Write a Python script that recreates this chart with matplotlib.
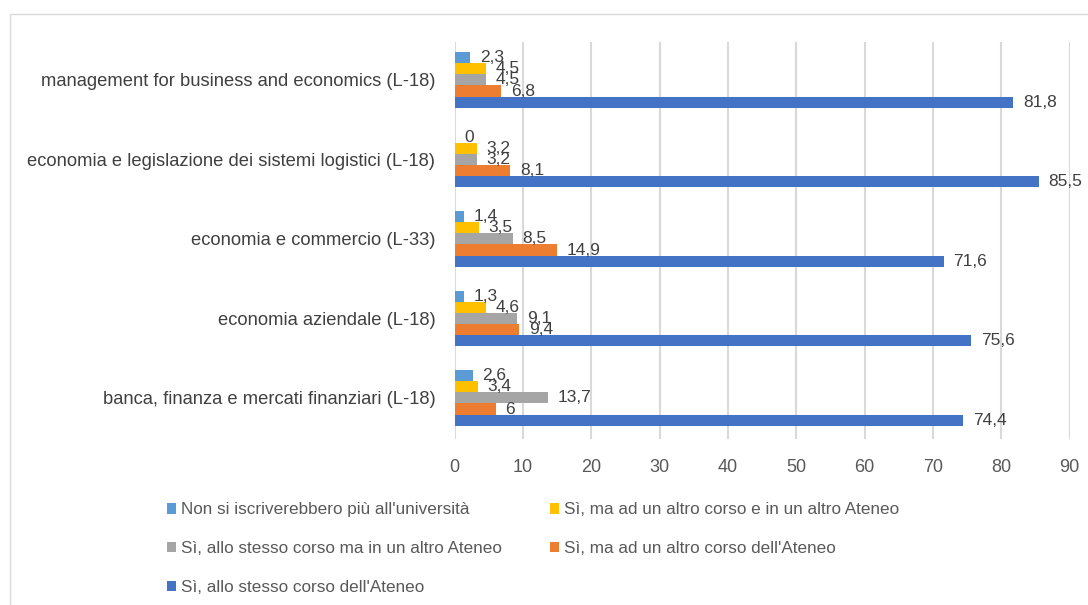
import matplotlib.pyplot as plt
import numpy as np
from matplotlib.patches import Rectangle

# Data (bottom to top)
categories = ['banca, finanza e mercati finanziari (L-18)',
              'economia aziendale (L-18)',
              'economia e commercio (L-33)',
              'economia e legislazione dei sistemi logistici (L-18)',
              'management for business and economics (L-18)']

stesso_corso = [74.4, 75.6, 71.6, 85.5, 81.8]
altro_corso_ateneo = [6, 9.4, 14.9, 8.1, 6.8]
stesso_corso_altro_ateneo = [13.7, 9.1, 8.5, 3.2, 4.5]
altro_corso_altro_ateneo = [3.4, 4.6, 3.5, 3.2, 4.5]
non_iscriverebbero = [2.6, 1.3, 1.4, 0, 2.3]

series = [
    (stesso_corso, "Sì, allo stesso corso dell'Ateneo", '#4472C4'),
    (altro_corso_ateneo, "Sì, ma ad un altro corso dell'Ateneo", '#ED7D31'),
    (stesso_corso_altro_ateneo, "Sì, allo stesso corso ma in un altro Ateneo", '#A5A5A5'),
    (altro_corso_altro_ateneo, "Sì, ma ad un altro corso e in un altro Ateneo", '#FFC000'),
    (non_iscriverebbero, "Non si iscriverebbero più all'università", '#5B9BD5'),
]

plt.rcParams['font.family'] = ['Liberation Sans', 'DejaVu Sans']

fig = plt.figure(figsize=(10.88, 6.05), dpi=100)
ax = fig.add_axes([0.418, 0.274, 0.565, 0.657])

y = np.arange(len(categories))
h = 0.14
bars = {}
for i, (vals, label, color) in enumerate(series):
    rects = ax.barh(y + (i - 2) * h, vals, h, color=color, label=label, zorder=3)
    bars[label] = rects
    for r, v in zip(rects, vals):
        txt = ('%g' % v).replace('.', ',')
        ax.annotate(txt, (r.get_width(), r.get_y() + r.get_height() / 2),
                    xytext=(7, 0), textcoords='offset points',
                    va='center', ha='left', fontsize=12.5, color='#404040', zorder=4)

ax.set_xlim(0, 90)
ax.set_ylim(-0.52, 4.48)
ax.set_xticks(np.arange(0, 91, 10))
ax.set_yticks(y)
ax.set_yticklabels(categories, fontsize=13.2, color='#404040')
ax.tick_params(axis='x', labelsize=13, labelcolor='#595959', length=0, pad=14)
ax.tick_params(axis='y', length=0, pad=14)
ax.grid(axis='x', color='#D9D9D9', linewidth=1.5, zorder=0)
for s in ax.spines.values():
    s.set_visible(False)

order = ["Non si iscriverebbero più all'università",
         "Sì, ma ad un altro corso e in un altro Ateneo",
         "Sì, allo stesso corso ma in un altro Ateneo",
         "Sì, ma ad un altro corso dell'Ateneo",
         "Sì, allo stesso corso dell'Ateneo"]
handles = [bars[k] for k in order]
# row-major order for 2 columns
leg = fig.legend([handles[0], handles[2], handles[4], handles[1], handles[3]],
                 [order[0], order[2], order[4], order[1], order[3]],
                 ncol=2, loc='upper left', bbox_to_anchor=(0.139, 0.195),
                 frameon=False, fontsize=12.3, handlelength=0.55, handleheight=0.55,
                 labelspacing=1.4, columnspacing=2.8, handletextpad=0.3,
                 labelcolor='#595959')

fig.patches.append(Rectangle((10 / 1088, -0.1), 1.1, (605 - 14) / 605 + 0.1,
                             transform=fig.transFigure, fill=False,
                             edgecolor='#D9D9D9', linewidth=1))

fig.savefig('out.png', dpi=100)
